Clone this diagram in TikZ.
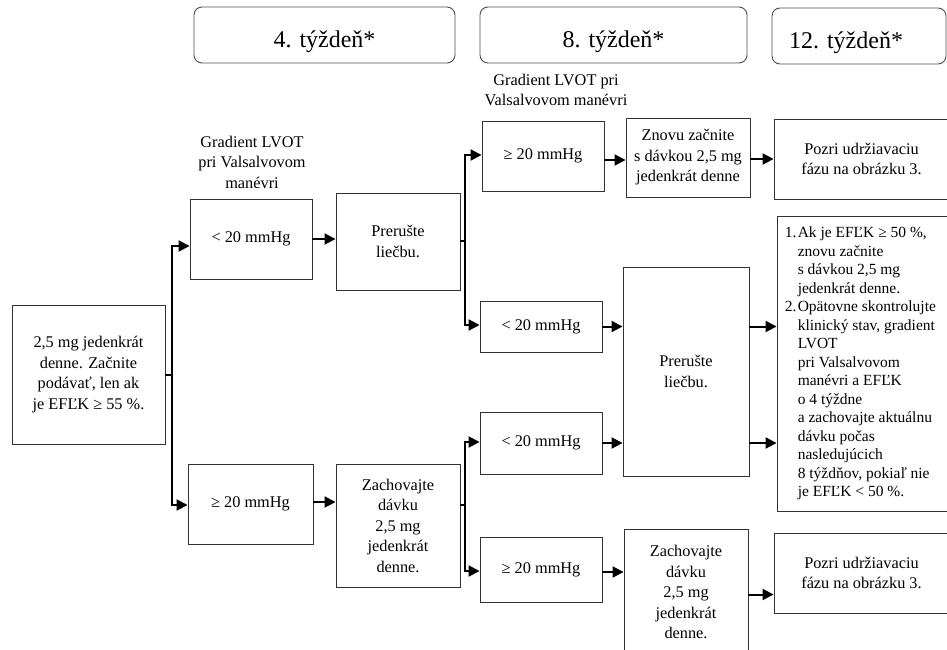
\documentclass[tikz,border=0pt]{standalone}
\usepackage{fontspec}
\setmainfont{Liberation Serif}
\usetikzlibrary{arrows.meta}
\begin{document}
\begin{tikzpicture}[x=1pt,y=-1pt,
  box/.style={draw=black!80, line width=0.9pt, align=center, inner sep=0pt, font=\fontsize{16.3}{20.5}\selectfont},
  hdr/.style={draw=black!70, line width=0.9pt, rounded corners=8pt, inner sep=0pt, text height=26pt, text depth=0pt, font=\fontsize{24}{28}\selectfont},
  lbl/.style={align=center, inner sep=0pt, font=\fontsize{16.3}{20.5}\selectfont},
  conn/.style={line width=2pt, -{Triangle[length=11pt,width=11pt]}},
  seg/.style={line width=2pt}]
\useasboundingbox (0,0) rectangle (947,650);
\clip (0,0) rectangle (947,650);

% headers
\node[hdr, minimum width=261pt, minimum height=56pt] (h4) at (324.5,35) {4. týždeň*};
\node[hdr, minimum width=267pt, minimum height=56pt] (h8) at (613.5,35) {8. týždeň*};
\node[hdr, minimum width=174pt, minimum height=56pt] (h12) at (859,36) {12. týždeň*\hspace*{26pt}};

% labels
\node[lbl] (gl1) at (252,162) {Gradient LVOT\\pri Valsalvovom\\manévri};
\node[lbl] (gl2) at (556,90) {Gradient LVOT pri\\Valsalvovom manévri};

% column 0
\node[box, minimum width=153pt, minimum height=139pt] (start) at (88.5,374.5) {2,5 mg jedenkrát\\denne. Začnite\\podávať, len ak\\je EFĽK ≥ 55~\%.};

% column 1
\node[box, minimum width=122pt, minimum height=80pt] (a1) at (251,239) {< 20 mmHg};
\node[box, minimum width=125pt, minimum height=80pt] (a2) at (250.5,504) {≥ 20 mmHg};

% column 2
\node[box, minimum width=124pt, minimum height=97pt] (b1) at (398,241.5) {Prerušte\\liečbu.};
\node[box, minimum width=124pt, minimum height=123pt] (b2) at (398,525.5) {Zachovajte\\dávku\\2,5 mg\\jedenkrát\\denne.};

% column 3
\node[box, minimum width=122pt, minimum height=70pt] (c1) at (543,156) {≥ 20 mmHg};
\node[box, minimum width=122pt, minimum height=51pt] (c2) at (541,326.5) {< 20 mmHg};
\node[box, minimum width=122pt, minimum height=62pt] (c3) at (541,443) {< 20 mmHg};
\node[box, minimum width=122pt, minimum height=65pt] (c4) at (541,569.5) {≥ 20 mmHg};

% column 4
\node[box, minimum width=124pt, minimum height=79pt] (d1) at (688,157.5) {Znovu začnite\\s dávkou 2,5 mg\\jedenkrát denne};
\node[box, minimum width=126pt, minimum height=209pt] (d2) at (686,371.5) {Prerušte\\liečbu.};
\node[box, minimum width=124pt, minimum height=126pt] (d3) at (686,592) {Zachovajte\\dávku\\2,5 mg\\jedenkrát\\denne.};

% column 5
\node[box, minimum width=175pt, minimum height=80pt] (e1) at (861.5,159) {Pozri udržiavaciu\\fázu na obrázku 3.};
\node[box, minimum width=175pt, minimum height=295pt] (e2) at (864.5,363.5) {};
\node[align=left, inner sep=0pt, anchor=west, font=\fontsize{15.5}{18.5}\selectfont] (e2t) at ([xshift=8pt]e2.west)
 {\makebox[13pt][l]{1.}Ak je EFĽK ≥ 50~\%,\\
  \hspace*{13pt}znovu začnite\\
  \hspace*{13pt}s dávkou 2,5 mg\\
  \hspace*{13pt}jedenkrát denne.\\
  \makebox[13pt][l]{2.}Opätovne skontrolujte\\
  \hspace*{13pt}klinický stav, gradient\\
  \hspace*{13pt}LVOT\\
  \hspace*{13pt}pri Valsalvovom\\
  \hspace*{13pt}manévri a EFĽK\\
  \hspace*{13pt}o 4 týždne\\
  \hspace*{13pt}a zachovajte aktuálnu\\
  \hspace*{13pt}dávku počas\\
  \hspace*{13pt}nasledujúcich\\
  \hspace*{13pt}8 týždňov, pokiaľ nie\\
  \hspace*{13pt}je EFĽK < 50~\%.};
\node[box, minimum width=175pt, minimum height=80pt] (e3) at (861.5,573) {Pozri udržiavaciu\\fázu na obrázku 3.};

% junctions
\coordinate (j1) at (172,375);
\coordinate (j2) at (465,241);
\coordinate (j3) at (465,505);

% connectors
\draw[seg] (start.east |- j1) -- (j1);
\draw[conn] (j1) |- ([yshift=-7pt]a1.west);
\draw[conn] (j1) |- ([yshift=-1pt]a2.west);
\draw[conn] (a1.east) -- (a1.east -| b1.west);
\draw[conn] ([yshift=2pt]a2.east) -- ([yshift=2pt]a2.east -| b2.west);

\draw[seg] (b1.east |- j2) -- (j2);
\draw[conn] (j2) |- ([yshift=1pt]c1.west);
\draw[conn] (j2) |- ([yshift=1.5pt]c2.west);
\draw[seg] (b2.east |- j3) -- (j3);
\draw[conn] (j3) |- ([yshift=1pt]c3.west);
\draw[conn] (j3) |- ([yshift=-1.5pt]c4.west);

\draw[conn] ([yshift=-4pt]c1.east) -- ([yshift=-4pt]c1.east -| d1.west);
\draw[conn] (c2.east) -- (c2.east -| d2.west);
\draw[conn] (c3.east) -- (c3.east -| d2.west);
\draw[conn] ([yshift=-2.5pt]c4.east) -- ([yshift=-2.5pt]c4.east -| d3.west);

\draw[conn] ([yshift=-1.5pt]d1.east) -- ([yshift=-1.5pt]d1.east -| e1.west);
\draw[conn] (d2.east |- c2.east) -- (e2.west |- c2.east);
\draw[conn] (d2.east |- c3.east) -- (e2.west |- c3.east);
\draw[conn] ([yshift=-2.5pt]d3.east) -- ([yshift=-2.5pt]d3.east -| e3.west);
\end{tikzpicture}
\end{document}
